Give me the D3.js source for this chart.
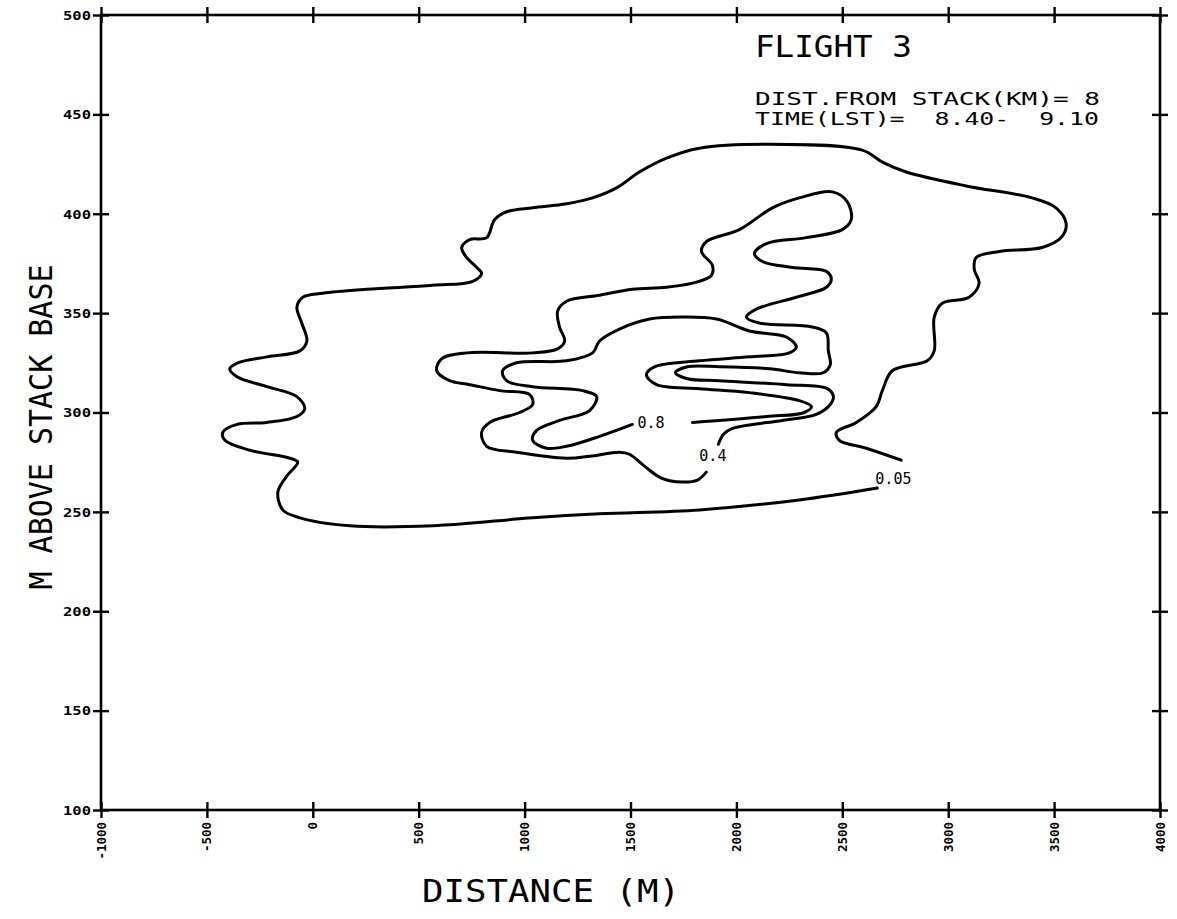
<!DOCTYPE html>
<html>
<head>
<meta charset="utf-8">
<script src="https://cdn.jsdelivr.net/npm/d3@7"></script>
<style>
  html, body { margin: 0; padding: 0; background: #fff; }
  svg { display: block; }
  text { fill: #000; }
</style>
</head>
<body>
<svg id="chart" width="1177" height="919"></svg>
<script>
// Axis ticks
const xTicks = [-1000, -500, 0, 500, 1000, 1500, 2000, 2500, 3000, 3500, 4000];
const yTicks = [100, 150, 200, 250, 300, 350, 400, 450, 500];

// Contour 0.05 (distance m, height m), open at its label
const contour005 = [
  [2665,262],[2297,256],[1825,251],[1354,249],[1038,247],[566,243],[175,243],[-61,247],
  [-142,251],[-165,260],[-123,268],[-71,275],[-108,277],[-297,281],[-415,286],[-425,290],
  [-358,294],[-217,295],[-75,298],[-38,302],[-75,308],[-217,313],[-358,318],[-392,322],
  [-354,325],[-217,328],[-61,331],[-28,336],[-52,345],[-75,353],[-47,358],[47,360],
  [255,362],[566,364],[755,366],[797,370],[774,373],[726,378],[703,383],[741,387],
  [821,388],[858,397],[915,401],[1038,403],[1198,405],[1321,408],[1434,413],[1542,421],
  [1670,428],[1825,433],[2142,435],[2594,432],[2689,426],[2802,421],[3085,414],[3396,408],
  [3509,403],[3557,395],[3533,388],[3443,383],[3241,381],[3132,378],[3123,372],[3146,365],
  [3099,358],[2972,355],[2934,348],[2934,331],[2901,326],[2736,321],[2689,311],[2660,303],
  [2566,295],[2472,290],[2486,286],[2613,282],[2778,276]
];

// Contour 0.4
const contour04 = [
  [1858,270],[1816,266],[1745,265],[1646,267],[1566,273],[1495,279],[1448,280],[1307,278],
  [1198,277],[962,280],[821,283],[797,290],[835,295],[976,300],[1038,304],[1024,309],
  [882,311],[741,314],[646,316],[585,321],[608,327],[726,330],[1038,330],[1156,332],
  [1189,336],[1165,343],[1156,351],[1198,356],[1354,359],[1509,362],[1670,363],[1825,366],
  [1882,369],[1887,374],[1835,381],[1858,386],[2014,392],[2170,403],[2297,408],[2453,411],
  [2524,406],[2542,397],[2500,392],[2330,388],[2142,385],[2085,380],[2123,376],[2264,373],
  [2425,371],[2448,367],[2425,363],[2283,358],[2094,352],[2047,348],[2108,345],[2358,343],
  [2425,340],[2434,331],[2443,324],[2410,320],[2297,320],[2156,322],[1920,323],[1769,323],
  [1712,320],[1769,317],[1920,316],[2236,314],[2429,312],[2458,308],[2443,304],[2377,299],
  [2217,296],[1981,292],[1939,289],[1915,284]
];

// Contour 0.8
const contour08 = [
  [1509,294],[1354,288],[1198,283],[1104,282],[1038,286],[1057,291],[1165,296],[1307,301],
  [1340,308],[1274,311],[1038,313],[915,316],[896,321],[962,325],[1198,326],[1321,330],
  [1354,336],[1448,342],[1590,347],[1745,348],[1906,347],[2061,341],[2236,338],[2283,333],
  [2250,330],[2061,328],[1825,326],[1613,323],[1575,319],[1623,314],[1825,312],[2061,310],
  [2297,306],[2354,303],[2321,300],[2142,298],[1792,295]
];

// Contour labels: text and anchor (distance m, height m)
const labelText = ["0.8", "0.4", "0.05"];
const labelX = [1533, 1825, 2656];
const labelY = [292, 275.5, 264];

const titleLines = ["FLIGHT 3", "DIST.FROM STACK(KM)= 8", "TIME(LST)=  8.40-  9.10"];

const svg = d3.select("#chart");
const x = d3.scaleLinear().domain([-1000, 4000]).range([101, 1160]);
const y = d3.scaleLinear().domain([100, 500]).range([810, 15]);

const plotFont = "'DejaVu Sans Mono', monospace";

// Frame
svg.append("rect")
  .attr("x", x(-1000)).attr("y", y(500))
  .attr("width", x(4000) - x(-1000)).attr("height", y(100) - y(500))
  .attr("fill", "none").attr("stroke", "#000").attr("stroke-width", 2.6);

// Cross-shaped ticks on all four sides
function crossTicks(g, horizontal) {
  g.select(".domain").remove();
  g.selectAll(".tick line")
    .attr("stroke", "#000").attr("stroke-width", 2.4)
    .attr(horizontal ? "y1" : "x1", -8)
    .attr(horizontal ? "y2" : "x2", 8);
}

const bottomAxis = svg.append("g")
  .attr("transform", `translate(0,${y(100)})`)
  .call(d3.axisBottom(x).tickValues(xTicks).tickFormat(d => d));
crossTicks(bottomAxis, true);
bottomAxis.selectAll(".tick text")
  .attr("transform", "rotate(-90)")
  .attr("x", -12).attr("y", 4).attr("dy", 0)
  .attr("text-anchor", "end")
  .attr("font-family", plotFont).attr("font-weight", "bold")
  .attr("font-size", 12)
  .attr("textLength", d => String(d).length * 7.5)
  .attr("lengthAdjust", "spacingAndGlyphs");

const topAxis = svg.append("g")
  .attr("transform", `translate(0,${y(500)})`)
  .call(d3.axisTop(x).tickValues(xTicks).tickFormat(""));
crossTicks(topAxis, true);

const leftAxis = svg.append("g")
  .attr("transform", `translate(${x(-1000)},0)`)
  .call(d3.axisLeft(y).tickValues(yTicks).tickFormat(d => d));
crossTicks(leftAxis, false);
leftAxis.selectAll(".tick text")
  .attr("x", -10).attr("dy", "0.36em")
  .attr("text-anchor", "end")
  .attr("font-family", plotFont).attr("font-weight", "bold")
  .attr("font-size", 12)
  .attr("textLength", 28)
  .attr("lengthAdjust", "spacingAndGlyphs");

const rightAxis = svg.append("g")
  .attr("transform", `translate(${x(4000)},0)`)
  .call(d3.axisRight(y).tickValues(yTicks).tickFormat(""));
crossTicks(rightAxis, false);

// Contours
const line = d3.line()
  .x(d => x(d[0])).y(d => y(d[1]))
  .curve(d3.curveCatmullRom.alpha(0.5));

[contour005, contour04, contour08].forEach(c => {
  svg.append("path")
    .attr("d", line(c))
    .attr("fill", "none").attr("stroke", "#000")
    .attr("stroke-width", 3).attr("stroke-linejoin", "round").attr("stroke-linecap", "round");
});

svg.selectAll("text.clabel")
  .data(labelText)
  .join("text")
  .attr("class", "clabel")
  .attr("x", (d, i) => x(labelX[i]))
  .attr("y", (d, i) => y(labelY[i]))
  .attr("font-family", plotFont)
  .attr("font-size", 15)
  .text(d => d);

// Title block
const titleSizes = [30, 17, 17];
const titleY = [57, 105, 125];
const titleLen = [157, 345, 344];
svg.selectAll("text.title")
  .data(titleLines)
  .join("text")
  .attr("class", "title")
  .attr("x", 755)
  .attr("y", (d, i) => titleY[i])
  .attr("font-family", plotFont)
  .attr("font-size", (d, i) => titleSizes[i])
  .attr("textLength", (d, i) => titleLen[i])
  .attr("lengthAdjust", "spacingAndGlyphs")
  .style("white-space", "pre")
  .text(d => d);

// Axis titles
svg.append("text")
  .attr("x", 551).attr("y", 902)
  .attr("text-anchor", "middle")
  .attr("font-family", plotFont).attr("font-size", 32)
  .attr("textLength", 258).attr("lengthAdjust", "spacingAndGlyphs")
  .text("DISTANCE (M)");

svg.append("text")
  .attr("transform", "translate(52,427) rotate(-90)")
  .attr("text-anchor", "middle")
  .attr("font-family", plotFont).attr("font-size", 32)
  .attr("textLength", 325).attr("lengthAdjust", "spacingAndGlyphs")
  .text("M ABOVE STACK BASE");
</script>
</body>
</html>
